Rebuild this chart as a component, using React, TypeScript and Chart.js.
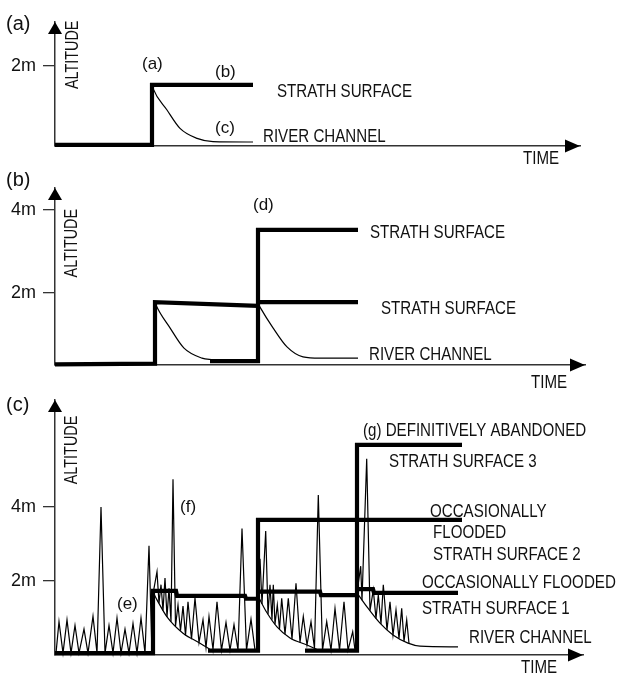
import React, { useEffect, useRef } from 'react';
import { Chart, registerables } from 'chart.js';
Chart.register(...registerables);

// ---------------- Panel (a) ----------------
const A_TICKS = [2];
const A_BED_T = [0, 97, 97, 198];
const A_BED_Y = [0.03, 0.03, 1.53, 1.53];
const A_RIVER_T = [97, 98, 112, 125, 142, 158, 198];
const A_RIVER_Y = [1.53, 1.44, 0.9, 0.44, 0.19, 0.11, 0.1];
const A_LABELS = [
  { text: '(a)', t: -49, y: 3.05, kind: 'panel' },
  { text: 'ALTITUDE', t: 18, y: 2.28, kind: 'axis' },
  { text: '(a)', t: 87, y: 2.03, kind: 'note' },
  { text: '(b)', t: 160, y: 1.83, kind: 'note' },
  { text: '(c)', t: 160, y: 0.45, kind: 'note' },
  { text: 'STRATH SURFACE', t: 222, y: 1.35, kind: 'caps' },
  { text: 'RIVER CHANNEL', t: 208, y: 0.23, kind: 'caps' },
  { text: 'TIME', t: 468, y: -0.33, kind: 'caps' },
];

// ---------------- Panel (b) ----------------
const B_TICKS = [2, 4];
const B_BED1_T = [0, 100, 100, 203];
const B_BED1_Y = [0.28, 0.3, 1.78, 1.69];
const B_BED2_T = [155, 203, 203, 303];
const B_BED2_Y = [0.36, 0.36, 3.52, 3.52];
const B_TER1_T = [203, 303];
const B_TER1_Y = [1.78, 1.78];
const B_RIV1_T = [100, 101, 115, 129, 147, 158];
const B_RIV1_Y = [1.78, 1.71, 1.16, 0.67, 0.43, 0.39];
const B_RIV2_T = [203, 205, 218, 232, 248, 265, 303];
const B_RIV2_Y = [1.75, 1.66, 1.16, 0.7, 0.46, 0.43, 0.43];
const B_LABELS = [
  { text: '(b)', t: -49, y: 4.7, kind: 'panel' },
  { text: 'ALTITUDE', t: 17, y: 3.2, kind: 'axis' },
  { text: '(d)', t: 198, y: 4.12, kind: 'note' },
  { text: 'STRATH SURFACE', t: 315, y: 3.45, kind: 'caps' },
  { text: 'STRATH SURFACE', t: 326, y: 1.61, kind: 'caps' },
  { text: 'RIVER CHANNEL', t: 314, y: 0.5, kind: 'caps' },
  { text: 'TIME', t: 476, y: -0.17, kind: 'caps' },
];

// ---------------- Panel (c) ----------------
const C_TICKS = [2, 4];
const C_BED1_T = [0, 98, 98, 121, 122, 190, 191, 203];
const C_BED1_Y = [0.05, 0.05, 1.73, 1.73, 1.6, 1.6, 1.52, 1.52];
const C_BED2_T = [153, 203, 203, 407];
const C_BED2_Y = [0.12, 0.12, 3.65, 3.65];
const C_TER1B_T = [203, 265, 266, 302];
const C_TER1B_Y = [1.71, 1.71, 1.62, 1.62];
const C_BED3_T = [250, 302, 302, 407];
const C_BED3_Y = [0.12, 0.12, 5.68, 5.68];
const C_TER1C_T = [302, 318, 319, 403];
const C_TER1C_Y = [1.78, 1.78, 1.68, 1.68];
const C_RIV1_T = [98, 102, 112, 128, 145, 155];
const C_RIV1_Y = [1.7, 1.49, 1.03, 0.59, 0.32, 0.15];
const C_RIV2_T = [203, 205, 212, 222, 235, 252, 262];
const C_RIV2_Y = [1.6, 1.49, 1.14, 0.76, 0.46, 0.27, 0.15];
const C_RIV3_T = [302, 312, 325, 338, 353, 365, 403];
const C_RIV3_Y = [1.68, 1.3, 0.86, 0.54, 0.32, 0.24, 0.22];
// flood fluctuations
const C_FLOOD1_T = [1, 4, 8, 12, 16, 20, 24, 29, 33, 38, 42, 46, 50, 54, 58, 62, 66, 70, 74, 78, 82, 86, 90, 94, 97];
const C_FLOOD1_Y = [0.05, 0.9, 0.05, 0.95, 0.05, 0.8, 0.05, 0.7, 0.05, 1.05, 0.05, 4.0, 0.05, 0.8, 0.05, 1.0, 0.05, 0.7, 0.05, 0.85, 0.05, 1.0, 0.05, 2.95, 0.05];
const C_FLOOD2_T = [98, 102, 104, 106, 108, 110, 112, 114, 116, 118, 120.5, 123, 125.5, 128, 130.5, 133, 136.5, 140, 144, 148, 151, 154, 158, 162, 166.5, 171, 175, 179, 183, 187, 191.5, 196, 200];
const C_FLOOD2_Y = [1.65, 2.25, 1.4, 1.9, 1.2, 2.08, 1.03, 1.8, 0.9, 4.75, 0.78, 1.35, 0.66, 1.32, 0.53, 1.44, 0.43, 1.54, 0.34, 0.95, 0.2, 1.04, 0.15, 1.44, 0.13, 0.88, 0.13, 0.82, 0.13, 3.42, 0.13, 0.97, 0.13];
const C_FLOOD3_T = [203, 205, 207, 210.7, 213, 215, 217, 218.3, 220, 222.3, 224.5, 226.7, 230, 233.3, 237, 241, 245, 248.3, 252, 256, 259.5, 263.3, 267.5, 271.7, 276, 280, 284.5, 289, 293, 297.7, 300];
const C_FLOOD3_Y = [1.6, 2.6, 1.38, 3.35, 1.1, 1.9, 0.95, 1.9, 0.83, 1.35, 0.7, 1.53, 0.56, 1.53, 0.43, 1.94, 0.34, 1.04, 0.27, 0.9, 0.18, 4.32, 0.13, 0.9, 0.13, 1.26, 0.13, 1.44, 0.13, 0.63, 0.13];
const C_FLOOD4_T = [302, 305.7, 307, 311.7, 315, 318.3, 321, 323.3, 326, 328.3, 332, 335, 338, 341, 344, 346.7, 349, 351.7, 354];
const C_FLOOD4_Y = [1.68, 2.4, 1.48, 5.3, 1.2, 1.76, 0.98, 1.62, 0.84, 1.9, 0.68, 1.44, 0.54, 1.22, 0.45, 1.26, 0.37, 0.95, 0.31];
const C_LABELS = [
  { text: '(c)', t: -49, y: 6.73, kind: 'panel' },
  { text: 'ALTITUDE', t: 17, y: 5.54, kind: 'axis' },
  { text: '(e)', t: 62, y: 1.38, kind: 'note' },
  { text: '(f)', t: 125, y: 4.0, kind: 'note' },
  { text: '(g) DEFINITIVELY ABANDONED', t: 308, y: 6.05, kind: 'caps' },
  { text: 'STRATH SURFACE 3', t: 334, y: 5.22, kind: 'caps' },
  { text: 'OCCASIONALLY', t: 375, y: 3.86, kind: 'caps' },
  { text: 'FLOODED', t: 378, y: 3.3, kind: 'caps' },
  { text: 'STRATH SURFACE 2', t: 378, y: 2.7, kind: 'caps' },
  { text: 'OCCASIONALLY FLOODED', t: 367, y: 1.95, kind: 'caps' },
  { text: 'STRATH SURFACE 1', t: 367, y: 1.24, kind: 'caps' },
  { text: 'RIVER CHANNEL', t: 414, y: 0.46, kind: 'caps' },
  { text: 'TIME', t: 466, y: -0.35, kind: 'caps' },
];

type Series = { t: number[]; y: number[]; thick?: boolean; smooth?: boolean };

const AXIS_COLOR = '#333';
const FONT = '"Liberation Sans", Arial, sans-serif';

const PANELS = [
  {
    top: 0, height: 172, pad: { top: 22, right: 50, bottom: 26 },
    xMax: 525, yMin: 0, yMax: 3.1, ticks: A_TICKS, labels: A_LABELS,
    series: [
      { t: A_RIVER_T, y: A_RIVER_Y, smooth: true },
      { t: A_BED_T, y: A_BED_Y, thick: true },
    ] as Series[],
  },
  {
    top: 172, height: 225, pad: { top: 16, right: 45, bottom: 32 },
    xMax: 530, yMin: 0.265, yMax: 4.53, ticks: B_TICKS, labels: B_LABELS,
    series: [
      { t: B_RIV1_T, y: B_RIV1_Y, smooth: true },
      { t: B_RIV2_T, y: B_RIV2_Y, smooth: true },
      { t: B_BED1_T, y: B_BED1_Y, thick: true },
      { t: B_BED2_T, y: B_BED2_Y, thick: true },
      { t: B_TER1_T, y: B_TER1_Y, thick: true },
    ] as Series[],
  },
  {
    top: 397, height: 280, pad: { top: 3, right: 47, bottom: 22 },
    xMax: 528, yMin: 0, yMax: 6.89, ticks: C_TICKS, labels: C_LABELS,
    series: [
      { t: C_FLOOD1_T, y: C_FLOOD1_Y },
      { t: C_FLOOD2_T, y: C_FLOOD2_Y },
      { t: C_FLOOD3_T, y: C_FLOOD3_Y },
      { t: C_FLOOD4_T, y: C_FLOOD4_Y },
      { t: C_RIV1_T, y: C_RIV1_Y, smooth: true },
      { t: C_RIV2_T, y: C_RIV2_Y, smooth: true },
      { t: C_RIV3_T, y: C_RIV3_Y, smooth: true },
      { t: C_BED1_T, y: C_BED1_Y, thick: true },
      { t: C_BED2_T, y: C_BED2_Y, thick: true },
      { t: C_TER1B_T, y: C_TER1B_Y, thick: true },
      { t: C_BED3_T, y: C_BED3_Y, thick: true },
      { t: C_TER1C_T, y: C_TER1C_Y, thick: true },
    ] as Series[],
  },
];

function Panel({ cfg }: { cfg: (typeof PANELS)[number] }) {
  const ref = useRef<HTMLCanvasElement | null>(null);
  useEffect(() => {
    if (!ref.current) return;
    const arrows = {
      id: 'arrows',
      afterDraw(chart: any) {
        const { ctx, chartArea: a } = chart;
        ctx.save();
        ctx.fillStyle = '#000';
        ctx.beginPath();
        ctx.moveTo(a.left, a.top);
        ctx.lineTo(a.left - 7, a.top + 12);
        ctx.lineTo(a.left + 7, a.top + 12);
        ctx.closePath();
        ctx.fill();
        ctx.beginPath();
        ctx.moveTo(a.right, a.bottom);
        ctx.lineTo(a.right - 15, a.bottom - 6.5);
        ctx.lineTo(a.right - 15, a.bottom + 6.5);
        ctx.closePath();
        ctx.fill();
        ctx.restore();
      },
    };
    const texts = {
      id: 'texts',
      afterDraw(chart: any) {
        const { ctx } = chart;
        const xs = chart.scales.x;
        const ys = chart.scales.y;
        ctx.save();
        ctx.fillStyle = '#111';
        ctx.textBaseline = 'middle';
        for (const l of cfg.labels) {
          const px = xs.getPixelForValue(l.t);
          const py = ys.getPixelForValue(l.y);
          ctx.save();
          ctx.translate(px, py);
          if (l.kind === 'axis') {
            ctx.rotate(-Math.PI / 2);
            ctx.textAlign = 'center';
            ctx.scale(0.8, 1);
            ctx.font = `18px ${FONT}`;
          } else if (l.kind === 'caps') {
            ctx.textAlign = 'left';
            ctx.scale(0.84, 1);
            ctx.font = `18px ${FONT}`;
          } else if (l.kind === 'panel') {
            ctx.textAlign = 'left';
            ctx.font = `20px ${FONT}`;
          } else {
            ctx.textAlign = 'left';
            ctx.font = `17px ${FONT}`;
          }
          ctx.fillText(l.text, 0, 0);
          ctx.restore();
        }
        ctx.restore();
      },
    };
    const chart = new Chart(ref.current, {
      type: 'line',
      data: {
        datasets: cfg.series.map((s) => ({
          data: s.t.map((t, i) => ({ x: t, y: s.y[i] })),
          borderColor: '#000',
          borderWidth: s.thick ? 4.2 : 1.2,
          pointRadius: 0,
          fill: false,
          clip: false as any,
          borderJoinStyle: 'miter' as const,
          borderCapStyle: 'butt' as const,
          cubicInterpolationMode: s.smooth ? ('monotone' as const) : ('default' as const),
          tension: 0,
        })),
      },
      options: {
        animation: false,
        responsive: false,
        devicePixelRatio: 1,
        events: [],
        layout: { padding: { left: 0, top: cfg.pad.top, right: cfg.pad.right, bottom: cfg.pad.bottom } },
        plugins: { legend: { display: false }, tooltip: { enabled: false } },
        scales: {
          x: {
            type: 'linear',
            min: 0,
            max: cfg.xMax,
            grid: { display: false },
            ticks: { display: false },
            border: { display: true, color: AXIS_COLOR, width: 1.5 },
            afterFit: (s: any) => {
              s.height = 0;
              s.paddingLeft = 0;
              s.paddingRight = 0;
            },
          },
          y: {
            type: 'linear',
            min: cfg.yMin,
            max: cfg.yMax,
            afterBuildTicks: (s: any) => {
              s.ticks = cfg.ticks.map((v) => ({ value: v }));
            },
            ticks: {
              color: '#111',
              padding: 7,
              font: { family: FONT, size: 18 },
              callback: (v: any) => `${v}m`,
            },
            grid: {
              display: true,
              drawOnChartArea: false,
              drawTicks: true,
              tickLength: 12,
              color: AXIS_COLOR,
              lineWidth: 1.3,
            },
            border: { display: true, color: AXIS_COLOR, width: 1.5 },
            afterFit: (s: any) => {
              s.width = 55;
              s.paddingTop = 0;
              s.paddingBottom = 0;
            },
          },
        },
      } as any,
      plugins: [arrows, texts],
    });
    return () => chart.destroy();
  }, [cfg]);
  return (
    <canvas
      ref={ref}
      width={630}
      height={cfg.height}
      style={{ position: 'absolute', left: 0, top: cfg.top, width: 630, height: cfg.height }}
    />
  );
}

export default function App() {
  return (
    <div style={{ position: 'absolute', left: 0, top: 0, width: 630, height: 677, background: '#fff', overflow: 'hidden' }}>
      {PANELS.map((p, i) => (
        <Panel key={i} cfg={p} />
      ))}
    </div>
  );
}
